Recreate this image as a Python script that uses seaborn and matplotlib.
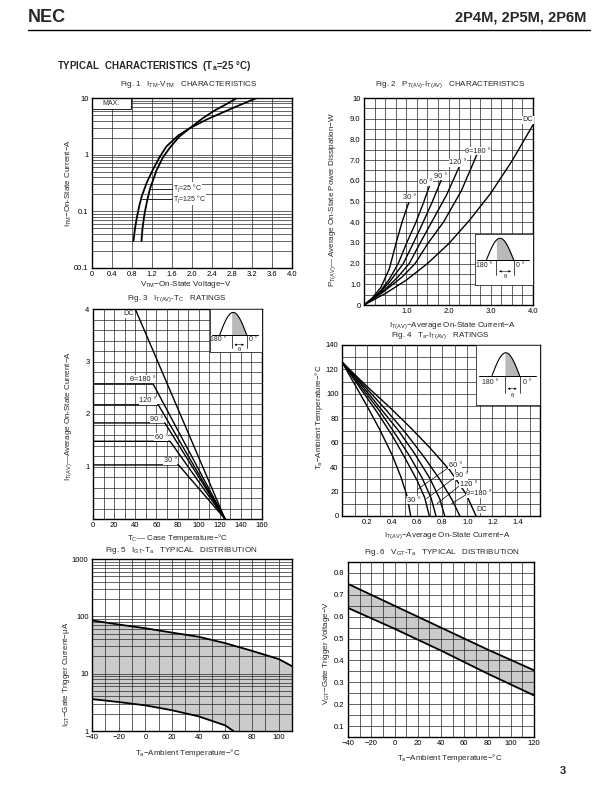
import numpy as np
import matplotlib
matplotlib.use('Agg')
import matplotlib.pyplot as plt
import seaborn as sns
from matplotlib.patches import Rectangle
from matplotlib.lines import Line2D
from matplotlib.ticker import MultipleLocator, FixedLocator, FixedFormatter, LogLocator, NullFormatter

# ---------------- data ----------------
# Fig.1  ITM-VTM (MAX.)
f1_v_125 = [0.83, 0.86, 0.90, 0.95, 1.00, 1.10, 1.23, 1.35, 1.49, 1.73, 1.96, 2.30, 2.70, 3.00, 3.30]
f1_i_125 = [0.03, 0.05, 0.08, 0.13, 0.19, 0.33, 0.57, 0.90, 1.40, 2.20, 2.95, 4.20, 6.00, 7.80, 10.0]
f1_v_25 = [0.99, 1.01, 1.05, 1.10, 1.16, 1.29, 1.42, 1.56, 1.75, 1.96, 2.20, 2.45, 2.70, 2.90]
f1_i_25 = [0.03, 0.05, 0.09, 0.15, 0.25, 0.53, 0.90, 1.34, 2.10, 2.95, 4.30, 6.00, 7.90, 10.0]
f1_xticks = [0, 0.4, 0.8, 1.2, 1.6, 2.0, 2.4, 2.8, 3.2, 3.6, 4.0]
f1_xlabels = ['0', '0.4', '0.8', '1.2', '1.6', '2.0', '2.4', '2.8', '3.2', '3.6', '4.0']
f1_yticks = [0.01, 0.1, 1, 10]
f1_ylabels = ['00.1', '0.1', '1', '10']

# Fig.2  PT(AV)-IT(AV)
f2_curves = {
    '30':  ([0, 0.2, 0.4, 0.6, 0.76, 0.9, 1.0, 1.07], [0, 0.35, 0.85, 1.75, 3.0, 4.0, 4.6, 5.0]),
    '60':  ([0, 0.2, 0.4, 0.6, 0.81, 1.01, 1.23, 1.4, 1.55], [0, 0.3, 0.7, 1.25, 2.0, 3.0, 4.0, 4.9, 5.75]),
    '90':  ([0, 0.2, 0.4, 0.6, 0.93, 1.17, 1.4, 1.62, 1.84], [0, 0.3, 0.65, 1.1, 2.0, 3.0, 4.0, 5.0, 6.1]),
    '120': ([0, 0.2, 0.5, 0.8, 1.07, 1.33, 1.6, 1.95, 2.27], [0, 0.28, 0.75, 1.35, 2.0, 3.0, 4.0, 5.3, 6.75]),
    '180': ([0, 0.2, 0.5, 0.9, 1.21, 1.52, 1.88, 2.3, 2.7], [0, 0.26, 0.7, 1.35, 2.0, 3.0, 4.0, 5.5, 7.4]),
    'DC':  ([0, 0.5, 1.0, 1.5, 2.0, 2.5, 3.0, 3.5, 4.0], [0, 0.55, 1.2, 2.0, 2.95, 4.1, 5.4, 6.95, 8.7]),
}
f2_labels = [('30 °', 0.92, 5.18), ('60 °', 1.30, 5.92), ('90 °', 1.66, 6.22),
             ('120 °', 2.02, 6.88), ('θ=180 °', 2.40, 7.43), ('DC', 3.76, 8.95)]

# Fig.3  IT(AV)-TC
f3_curves = {
    'DC':  ([40, 125], [4.0, 0]),
    '180': ([0, 57, 125], [2.57, 2.57, 0]),
    '120': ([0, 62, 125], [2.17, 2.17, 0]),
    '90':  ([0, 68, 125], [1.83, 1.83, 0]),
    '60':  ([0, 73, 125], [1.48, 1.48, 0]),
    '30':  ([0, 81, 125], [1.03, 1.03, 0]),
}
f3_labels = [('DC', 28.5, 3.91), ('θ=180 °', 35, 2.66), ('120 °', 44, 2.25),
             ('90 °', 54, 1.90), ('60 °', 58.5, 1.56), ('30 °', 67, 1.11)]

# Fig.4  Ta-IT(AV)
f4_curves = {
    '30':  ([0, 0.10, 0.20, 0.30, 0.40, 0.47, 0.52, 0.548], [126, 108, 90, 71, 50, 32, 16, 0]),
    '60':  ([0, 0.15, 0.28, 0.40, 0.50, 0.60, 0.66, 0.697], [126, 104, 85, 66, 48, 29, 15, 0]),
    '90':  ([0, 0.15, 0.30, 0.42, 0.54, 0.64, 0.71, 0.75], [126, 106, 86, 68, 49, 31, 15, 0]),
    '120': ([0, 0.15, 0.30, 0.45, 0.58, 0.70, 0.78, 0.82], [126, 108, 89, 70, 51, 31, 14, 0]),
    '180': ([0, 0.20, 0.35, 0.50, 0.65, 0.78, 0.88, 0.94], [126, 104, 87, 69, 49, 30, 13, 0]),
    'DC':  ([0, 0.20, 0.38, 0.55, 0.70, 0.86, 0.99, 1.07], [126, 106, 89, 72, 56, 37.5, 18, 0]),
}
f4_labels = [('60 °', 0.85, 41.6), ('90 °', 0.90, 32.8), ('120 °', 0.94, 26.0),
             ('θ=180 °', 0.99, 18.3), ('30 °', 0.52, 12.9), ('DC', 1.07, 5.5)]
f4_leaders = [(0.85, 39.6, 0.60, 21.6), (0.90, 31.5, 0.675, 14.2),
              (0.94, 25.0, 0.76, 10.1), (0.99, 17.5, 0.874, 10.1)]

# Fig.5  IGT-Ta
f5_up_x = [-40, -20, 0, 20, 40, 60, 80, 100, 110]
f5_up_y = [85, 72, 62, 52, 44, 34, 25, 18, 13.5]
f5_lo_x = [-40, -20, 0, 20, 40, 60, 66]
f5_lo_y = [3.6, 3.2, 2.8, 2.3, 1.8, 1.25, 1.0]

# Fig.6  VGT-Ta
f6_x = [-40, 0, 40, 80, 120]
f6_up = [0.75, 0.65, 0.55, 0.45, 0.355]
f6_lo = [0.64, 0.545, 0.445, 0.34, 0.24]

# ---------------- style ----------------
sns.set_style('white')
plt.rcParams['font.family'] = ['Liberation Sans', 'DejaVu Sans']
plt.rcParams['mathtext.fontset'] = 'custom'
plt.rcParams['mathtext.rm'] = 'Liberation Sans'
plt.rcParams['mathtext.it'] = 'Liberation Sans:italic'
plt.rcParams['mathtext.bf'] = 'Liberation Sans:bold'
plt.rcParams['mathtext.default'] = 'regular'

W, H = 612, 792
fig = plt.figure(figsize=(W / 100, H / 100), dpi=100)
fig.patch.set_facecolor('white')

TICK = 5.5
LAB = 5.8
GRIDC = '#262626'


def add_ax(l, t, r, b):
    return fig.add_axes([l / W, 1 - b / H, (r - l) / W, (b - t) / H])


def paper(ax):
    ax.set_axisbelow(True)
    ax.grid(True, which='both', color=GRIDC, lw=0.5)
    ax.tick_params(which='both', length=0, labelsize=TICK, pad=2.5, colors='k')
    for s in ax.spines.values():
        s.set_linewidth(1.0)
        s.set_color('k')
        s.set_visible(True)


def curve(ax, x, y, lw=1.1):
    sns.lineplot(x=x, y=y, ax=ax, color='k', lw=lw, sort=False, estimator=None)


def wave_inset(ax, rect, base, xa, xb, xs, peak):
    ia = ax.inset_axes(rect)
    ia.set_xlim(0, 1)
    ia.set_ylim(0, 1)
    ia.set_xticks([])
    ia.set_yticks([])
    ia.set_facecolor('white')
    for s in ia.spines.values():
        s.set_linewidth(0.6)
    t = np.linspace(xa, xb, 80)
    yv = base + (peak - base) * np.sin(np.pi * (t - xa) / (xb - xa))
    ia.plot([0.04, 0.93], [base, base], color='k', lw=0.7)
    ia.plot(t, yv, color='k', lw=0.8)
    m = t >= xs
    ia.fill_between(t[m], base, yv[m], color='#b9b9b9', lw=0)
    ia.plot([xs, xs], [base, base - 0.30], color='k', lw=0.5)
    ia.plot([xb, xb], [base, base - 0.30], color='k', lw=0.5)
    ia.annotate('', xy=(xs, base - 0.22), xytext=(xb, base - 0.22),
                arrowprops=dict(arrowstyle='<|-|>', lw=0.4, mutation_scale=3, color='k'))
    ia.text((xs + xb) / 2, base - 0.33, 'θ', ha='center', va='center', fontsize=4.2)
    ia.text(xa - 0.03, base - 0.11, '180 °', ha='center', va='center', fontsize=5)
    ia.text(xb + 0.12, base - 0.11, '0 °', ha='center', va='center', fontsize=5)


def title(x, y, s):
    fig.text(x / W, 1 - y / H, s, ha='center', va='center', fontsize=5.8)


# ---------------- page header ----------------
fig.text(28 / W, 1 - 17 / H, 'NEC', fontsize=13, fontweight='heavy', va='center', ha='left')
fig.text(586 / W, 1 - 17 / H, '2P4M, 2P5M, 2P6M', fontsize=10.5, fontweight='bold', va='center', ha='right')
fig.add_artist(Line2D([28 / W, 590 / W], [1 - 30 / H, 1 - 30 / H], color='k', lw=1.0))
fig.text(57 / W, 1 - 66 / H, 'TYPICAL  CHARACTERISTICS  (T$_a$=25 °C)', fontsize=7, fontweight='bold',
         va='center', ha='left')
fig.text(563 / W, 1 - 771 / H, '3', fontsize=8, fontweight='bold', va='center', ha='center')

# ---------------- Fig.1 ----------------
ax1 = add_ax(92, 98, 292, 268)
ax1.set_yscale('log')
ax1.set_xlim(0, 4)
ax1.set_ylim(0.01, 10)
ax1.xaxis.set_major_locator(FixedLocator(f1_xticks))
ax1.xaxis.set_major_formatter(FixedFormatter(f1_xlabels))
ax1.yaxis.set_major_locator(FixedLocator(f1_yticks))
ax1.yaxis.set_major_formatter(FixedFormatter(f1_ylabels))
ax1.yaxis.set_minor_locator(LogLocator(base=10, subs=np.arange(2, 10)))
ax1.yaxis.set_minor_formatter(NullFormatter())
paper(ax1)
curve(ax1, f1_v_125, f1_i_125, 1.3)
curve(ax1, f1_v_25, f1_i_25, 1.3)
ax1.add_patch(Rectangle((0, 6.5), 0.77, 3.5, facecolor='white', edgecolor='k', lw=0.6, zorder=1.5))
ax1.text(0.38, 8.0, 'MAX.', fontsize=5, ha='center', va='center', zorder=3)
ax1.plot([1.16, 1.60], [0.25, 0.25], color='k', lw=0.6)
ax1.plot([0.99, 1.60], [0.165, 0.165], color='k', lw=0.6)
ax1.text(1.62, 0.255, 'T$_j$=25 °C', fontsize=5.0, va='center', ha='left',
         bbox=dict(fc='white', ec='none', pad=0.05))
ax1.text(1.62, 0.162, 'T$_j$=125 °C', fontsize=5.0, va='center', ha='left',
         bbox=dict(fc='white', ec='none', pad=0.05))
ax1.set_ylabel('I$_{TM}$−On-State Current−A', fontsize=LAB)
ax1.yaxis.set_label_coords(-0.09, 0.5)
ax1.set_xlabel('V$_{TM}$−On-State Voltage−V', fontsize=LAB)
ax1.xaxis.set_label_coords(0.47, -0.065)
title(189, 85, 'Fig. 1   I$_{TM}$-V$_{TM}$   CHARACTERISTICS')

# ---------------- Fig.2 ----------------
ax2 = add_ax(364, 98, 533, 305)
ax2.set_xlim(0, 4)
ax2.set_ylim(0, 10)
ax2.xaxis.set_major_locator(FixedLocator([1, 2, 3, 4]))
ax2.xaxis.set_major_formatter(FixedFormatter(['1.0', '2.0', '3.0', '4.0']))
ax2.xaxis.set_minor_locator(MultipleLocator(0.25))
ax2.yaxis.set_major_locator(FixedLocator(list(range(0, 11))))
ax2.yaxis.set_major_formatter(FixedFormatter(['0', '1.0', '2.0', '3.0', '4.0', '5.0', '6.0',
                                              '7.0', '8.0', '9.0', '10']))
ax2.yaxis.set_minor_locator(MultipleLocator(0.5))
paper(ax2)
for k, (xs, ys) in f2_curves.items():
    curve(ax2, xs, ys, 1.0)
for s, x, y in f2_labels:
    ax2.text(x, y, s, fontsize=5.3, ha='left', va='center', bbox=dict(fc='white', ec='none', pad=0.3))
wave_inset(ax2, [0.655, 0.096, 0.345, 0.246], 0.49, 0.2, 0.67, 0.37, 0.92)
ax2.set_ylabel('P$_{T(AV)}$— Average On-State Power Dissipation−W', fontsize=LAB)
ax2.yaxis.set_label_coords(-0.155, 0.51)
ax2.set_xlabel('I$_{T(AV)}$−Average On-State Current−A', fontsize=LAB)
ax2.xaxis.set_label_coords(0.52, -0.075)
title(450, 85, 'Fig. 2   P$_{T(AV)}$-I$_{T(AV)}$   CHARACTERISTICS')

# ---------------- Fig.3 ----------------
ax3 = add_ax(93, 309, 262, 519)
ax3.set_xlim(0, 160)
ax3.set_ylim(0, 4)
ax3.xaxis.set_major_locator(MultipleLocator(20))
ax3.xaxis.set_minor_locator(MultipleLocator(10))
ax3.yaxis.set_major_locator(FixedLocator([1, 2, 3, 4]))
ax3.yaxis.set_major_formatter(FixedFormatter(['1', '2', '3', '4']))
ax3.yaxis.set_minor_locator(MultipleLocator(0.2))
paper(ax3)
for k, (xs, ys) in f3_curves.items():
    curve(ax3, xs, ys, 1.0)
for s, x, y in f3_labels:
    ax3.text(x, y, s, fontsize=5.3, ha='left', va='center', bbox=dict(fc='white', ec='none', pad=0.3))
wave_inset(ax3, [0.69, 0.795, 0.31, 0.205], 0.39, 0.19, 0.71, 0.42, 0.92)
ax3.set_ylabel('I$_{T(AV)}$—Average On-State Current−A', fontsize=LAB)
ax3.yaxis.set_label_coords(-0.115, 0.49)
ax3.set_xlabel('T$_C$— Case Temperature−°C', fontsize=LAB)
ax3.xaxis.set_label_coords(0.5, -0.062)
title(177, 299, 'Fig. 3   I$_{T(AV)}$-T$_C$   RATINGS')

# ---------------- Fig.4 ----------------
ax4 = add_ax(342, 345, 540, 516)
ax4.set_xlim(0, 1.58)
ax4.set_ylim(0, 140)
ax4.xaxis.set_major_locator(FixedLocator([0.2, 0.4, 0.6, 0.8, 1.0, 1.2, 1.4]))
ax4.xaxis.set_major_formatter(FixedFormatter(['0.2', '0.4', '0.6', '0.8', '1.0', '1.2', '1.4']))
ax4.xaxis.set_minor_locator(MultipleLocator(0.1))
ax4.yaxis.set_major_locator(MultipleLocator(20))
ax4.yaxis.set_minor_locator(MultipleLocator(10))
paper(ax4)
for k, (xs, ys) in f4_curves.items():
    curve(ax4, xs, ys, 1.0)
for x0, y0, x1, y1 in f4_leaders:
    ax4.plot([x0, x1], [y0, y1], color='k', lw=0.5)
for s, x, y in f4_labels:
    ax4.text(x, y, s, fontsize=5.3, ha='left', va='center', bbox=dict(fc='white', ec='none', pad=0.3))
wave_inset(ax4, [0.677, 0.65, 0.323, 0.35], 0.49, 0.25, 0.68, 0.45, 0.87)
ax4.set_ylabel('T$_a$−Ambient Temperature−°C', fontsize=LAB)
ax4.yaxis.set_label_coords(-0.085, 0.58)
ax4.set_xlabel('I$_{T(AV)}$−Average On-State Current−A', fontsize=LAB)
ax4.xaxis.set_label_coords(0.53, -0.085)
title(440, 336, 'Fig. 4   T$_a$-I$_{T(AV)}$   RATINGS')

# ---------------- Fig.5 ----------------
ax5 = add_ax(92, 559, 292, 731)
ax5.set_yscale('log')
ax5.set_xlim(-40, 110)
ax5.set_ylim(1, 1000)
ax5.xaxis.set_major_locator(FixedLocator([-40, -20, 0, 20, 40, 60, 80, 100]))
ax5.xaxis.set_major_formatter(FixedFormatter(['−40', '−20', '0', '20', '40', '60', '80', '100']))
ax5.xaxis.set_minor_locator(MultipleLocator(10))
ax5.yaxis.set_major_locator(FixedLocator([1, 10, 100, 1000]))
ax5.yaxis.set_major_formatter(FixedFormatter(['1', '10', '100', '1000']))
ax5.yaxis.set_minor_locator(LogLocator(base=10, subs=np.arange(2, 10)))
ax5.yaxis.set_minor_formatter(NullFormatter())
paper(ax5)
poly_x = list(f5_up_x) + [f5_up_x[-1]] + list(f5_lo_x[::-1])
poly_y = list(f5_up_y) + [1.0] + list(f5_lo_y[::-1])
ax5.fill(poly_x, poly_y, facecolor='#cbcbcb', edgecolor='none', zorder=0.4)
curve(ax5, f5_up_x, f5_up_y, 1.3)
curve(ax5, f5_lo_x, f5_lo_y, 1.3)
ax5.set_ylabel('I$_{GT}$−Gate Trigger Current−μA', fontsize=LAB)
ax5.yaxis.set_label_coords(-0.10, 0.33)
ax5.set_xlabel('T$_a$−Ambient Temperature−°C', fontsize=LAB)
ax5.xaxis.set_label_coords(0.48, -0.095)
title(181, 550, 'Fig. 5   I$_{GT}$-T$_a$   TYPICAL   DISTRIBUTION')

# ---------------- Fig.6 ----------------
ax6 = add_ax(348, 562, 534, 737)
ax6.set_xlim(-40, 120)
ax6.set_ylim(0.05, 0.85)
ax6.xaxis.set_major_locator(FixedLocator([-40, -20, 0, 20, 40, 60, 80, 100, 120]))
ax6.xaxis.set_major_formatter(FixedFormatter(['−40', '−20', '0', '20', '40', '60', '80', '100', '120']))
ax6.xaxis.set_minor_locator(MultipleLocator(10))
ax6.yaxis.set_major_locator(FixedLocator([0.1, 0.2, 0.3, 0.4, 0.5, 0.6, 0.7, 0.8]))
ax6.yaxis.set_major_formatter(FixedFormatter(['0.1', '0.2', '0.3', '0.4', '0.5', '0.6', '0.7', '0.8']))
ax6.yaxis.set_minor_locator(MultipleLocator(0.05))
paper(ax6)
ax6.fill_between(f6_x, f6_lo, f6_up, facecolor='#cbcbcb', edgecolor='none', zorder=0.4)
curve(ax6, f6_x, f6_up, 1.3)
curve(ax6, f6_x, f6_lo, 1.3)
ax6.set_ylabel('V$_{GT}$−Gate Trigger Voltage−V', fontsize=LAB)
ax6.yaxis.set_label_coords(-0.085, 0.48)
ax6.set_xlabel('T$_a$−Ambient Temperature−°C', fontsize=LAB)
ax6.xaxis.set_label_coords(0.55, -0.085)
title(442, 552, 'Fig. 6   V$_{GT}$-T$_a$   TYPICAL   DISTRIBUTION')

fig.savefig('out.png', dpi=100, facecolor='white')
